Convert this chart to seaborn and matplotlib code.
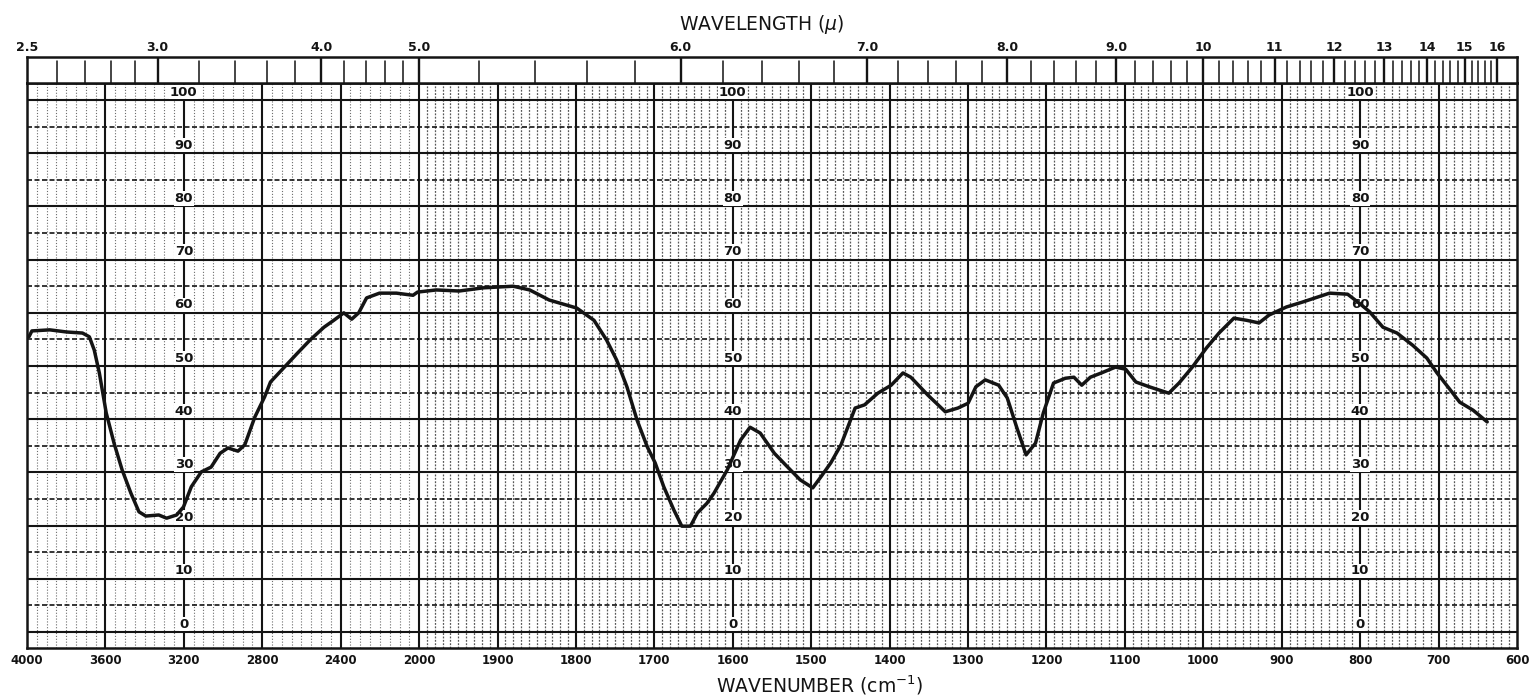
import numpy as np
import pandas as pd
import matplotlib
matplotlib.use("Agg")
import matplotlib.pyplot as plt
from matplotlib.transforms import blended_transform_factory
import seaborn as sns

# spectrum: wavenumber (cm-1) and % transmittance
wavenumber = [3990, 3975, 3884, 3798, 3717, 3682, 3657, 3631, 3596, 3556,
              3515, 3470, 3429, 3394, 3328, 3288, 3237, 3202, 3162, 3111,
              3061, 3015, 2975, 2924, 2889, 2838, 2788, 2758, 2687, 2621,
              2556, 2485, 2435, 2384, 2344, 2308, 2268, 2202, 2116, 2031,
              2008, 1978, 1949, 1918, 1880, 1859, 1834, 1799, 1777, 1761,
              1748, 1735, 1722, 1709, 1699, 1688, 1675, 1665, 1654, 1645,
              1633, 1624, 1607, 1590, 1578, 1565, 1547, 1530, 1514, 1498,
              1488, 1475, 1462, 1444, 1432, 1415, 1398, 1383, 1373, 1351,
              1329, 1313, 1300, 1290, 1278, 1261, 1250, 1238, 1226, 1214,
              1204, 1191, 1176, 1165, 1155, 1144, 1130, 1112, 1099, 1086,
              1069, 1044, 1031, 1014, 996, 980, 961, 945, 929, 916,
              894, 874, 839, 816, 801, 788, 771, 753, 733, 715,
              702, 685, 673, 656, 638]
transmittance = [55.5, 56.6, 56.8, 56.4, 56.2, 55.5, 53.0, 48.7, 41.2, 35.5,
                 30.5, 26.1, 22.6, 21.8, 22.0, 21.4, 22.0, 23.5, 27.3, 30.1,
                 31.0, 33.6, 34.6, 34.0, 35.2, 40.4, 44.2, 47.0, 49.8, 52.4,
                 54.9, 57.3, 58.6, 60.0, 58.8, 60.0, 62.8, 63.7, 63.7, 63.3,
                 63.9, 64.3, 64.1, 64.7, 65.0, 64.3, 62.4, 60.9, 58.6, 54.9,
                 51.1, 46.1, 39.8, 34.8, 31.8, 27.3, 22.9, 19.9, 19.9, 22.4,
                 24.2, 26.1, 30.5, 36.1, 38.5, 37.4, 33.6, 31.0, 28.6, 27.1,
                 29.1, 31.8, 35.2, 42.1, 42.7, 44.9, 46.4, 48.7, 47.9, 44.5,
                 41.4, 42.1, 43.0, 46.1, 47.4, 46.4, 44.0, 38.5, 33.3, 35.5,
                 41.2, 46.8, 47.7, 47.9, 46.4, 47.9, 48.7, 49.8, 49.4, 47.0,
                 46.1, 44.9, 46.8, 49.8, 53.4, 56.2, 59.0, 58.6, 58.1, 59.6,
                 61.1, 62.0, 63.7, 63.5, 61.8, 60.2, 57.3, 56.2, 53.9, 51.5,
                 48.7, 45.5, 43.2, 41.7, 39.5]

wn_ticks = [4000, 3600, 3200, 2800, 2400, 2000, 1900, 1800, 1700, 1600,
            1500, 1400, 1300, 1200, 1100, 1000, 900, 800, 700, 600]
pct_labels = list(range(0, 101, 10))
label_columns = [3200, 1600, 800]
wl_major = [2.5, 3.0, 4.0, 5.0, 6.0, 7.0, 8.0, 9.0, 10, 11, 12, 13, 14, 15, 16]
wl_text = ["2.5", "3.0", "4.0", "5.0", "6.0", "7.0", "8.0", "9.0",
           "10", "11", "12", "13", "14", "15", "16"]

df = pd.DataFrame({"wn": wavenumber, "T": transmittance})


# chart paper: 4000-2000 is drawn at a quarter of the 2000-600 scale
def fwd(w):
    w = np.asarray(w, dtype=float)
    return np.where(w >= 2000, 500 + (w - 2000) / 4.0, w - 1500)


def inv(u):
    u = np.asarray(u, dtype=float)
    return np.where(u >= 500, 2000 + (u - 500) * 4.0, u + 1500)


sns.set_style("white")
plt.rcParams["font.family"] = ["DejaVu Sans"]
ink = "#141414"

fig = plt.figure(figsize=(15.31, 7), dpi=100)
ax = fig.add_axes([27 / 1531, 52 / 700, 1490 / 1531, 565 / 700])
top = fig.add_axes([27 / 1531, 617 / 700, 1490 / 1531, 26 / 700])
for a in (ax, top):
    a.set_xscale("function", functions=(fwd, inv))
    a.set_xlim(4000, 600)
    for s in a.spines.values():
        s.set_linewidth(1.8)
        s.set_color(ink)
ax.set_ylim(-3.0, 103.2)

# grid
minor_left = [w for w in range(3950, 2000, -50) if (4000 - w) % 400 != 0]
minor_right = [w for w in range(1990, 600, -10) if w % 100 != 0]
for w in minor_left:
    ax.axvline(w, color="#303030", lw=0.8, ls=(0, (1, 1.6)), alpha=0.7, zorder=1)
for w in minor_right:
    ax.axvline(w, color="#303030", lw=0.9, ls=(0, (1.5, 1.2)), alpha=0.8, zorder=1)
for w in wn_ticks[1:-1]:
    ax.axvline(w, color=ink, lw=1.5, zorder=2)
for v in range(5, 100, 10):
    ax.axhline(v, color=ink, lw=1.2, ls=(0, (3, 1.5)), zorder=2)
for v in range(0, 101, 10):
    ax.axhline(v, color=ink, lw=1.5, zorder=2)

sns.lineplot(data=df, x="wn", y="T", ax=ax, sort=False, estimator=None,
             color=ink, lw=2.5, zorder=5)

for col in label_columns:
    for v in pct_labels:
        ax.text(col, v + 1.5, str(v), ha="center", va="center", fontsize=9.5,
                fontweight="bold", color=ink, zorder=4,
                bbox=dict(boxstyle="square,pad=0.05", fc="white", ec="none"))

ax.set_xticks(wn_ticks)
ax.set_xticklabels([str(w) for w in wn_ticks], fontsize=8.5, fontweight="bold", color=ink)
ax.set_xticks([], minor=True)
ax.set_yticks([])
ax.tick_params(axis="x", length=0, pad=4)
ax.set_xlabel("")
ax.set_ylabel("")

# wavelength strip
wl_minor = list(np.round(np.arange(2.6, 3.0, 0.1), 1)) + \
    [w for w in np.round(np.arange(3.2, 16.0, 0.2), 1) if abs(w - round(w)) > 0.05]
for wl in wl_minor:
    top.axvline(10000 / wl, ymin=0.0, ymax=0.85, color=ink, lw=1.1)
for wl in wl_major[1:]:
    top.axvline(10000 / wl, color=ink, lw=1.7)
top.set_ylim(0, 1)
top.set_xticks([])
top.set_xticks([], minor=True)
top.set_yticks([])
ttrans = blended_transform_factory(top.transData, top.transAxes)
for wl, t in zip(wl_major, wl_text):
    top.text(10000 / wl, 1.1, t, transform=ttrans, ha="center", va="bottom",
             fontsize=9, fontweight="bold", color=ink)

fig.text(762 / 1531, 1 - 25 / 700, r"WAVELENGTH ($\mu$)", ha="center", va="center",
         fontsize=13.5, color=ink)
fig.text(820 / 1531, 1 - 685 / 700, r"WAVENUMBER (cm$^{-1}$)", ha="center", va="center",
         fontsize=13.5, color=ink)

fig.savefig("out.png", dpi=100, facecolor="white")
